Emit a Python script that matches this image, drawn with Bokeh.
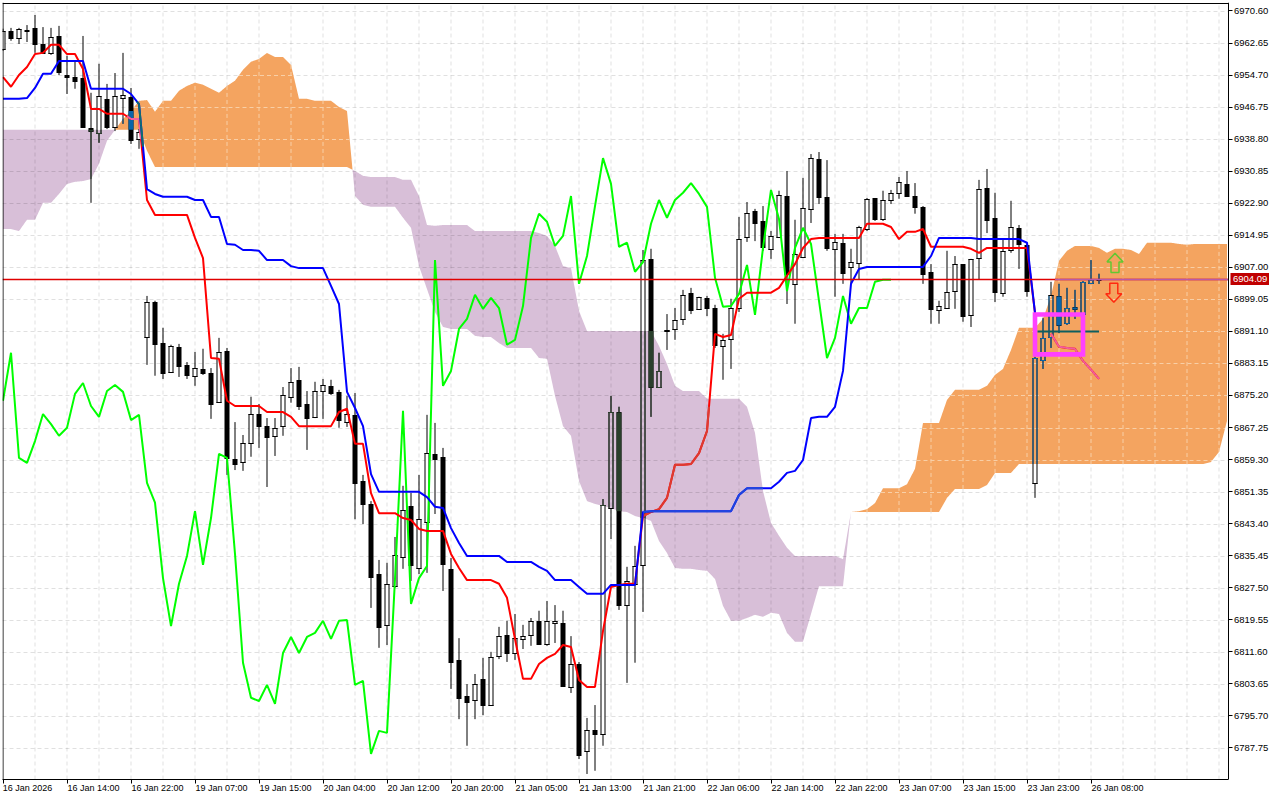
from bokeh.plotting import figure
from bokeh.models import FixedTicker, PrintfTickFormatter, LinearAxis, Range1d
from bokeh.core.properties import value
from bokeh.embed import file_html
from bokeh.resources import INLINE
import numpy as np

nan = float("nan")

# ---- candles (per bar) ----
highs = [6966.2,6966.4,6966.4,6967.1,6969.6,6966.6,6966.4,6966.9,6959.5,6958.2,
 6964.4,6950.3,6957.5,6952.5,6955.2,6960.2,6951.5,6941.3,6899.9,6898.7,
 6892.0,6887.8,6888.0,6883.5,6886.0,6886.8,6882.0,6889.5,6887.0,6868.6,
 6865.4,6874.9,6873.1,6869.6,6869.6,6877.3,6882.0,6882.3,6876.3,6878.6,
 6879.3,6879.1,6876.6,6875.1,6875.8,6855.5,6849.0,6834.4,6833.7,6840.1,
 6852.8,6851.0,6855.5,6870.4,6868.4,6862.2,6834.9,6815.0,6803.6,6806.1,
 6810.1,6811.6,6817.8,6819.3,6821.0,6818.3,6820.0,6821.8,6824.2,6823.2,
 6821.8,6815.5,6809.1,6795.2,6798.4,6849.5,6875.1,6872.4,6832.7,6837.9,
 6911.3,6911.6,6885.8,6895.4,6896.9,6901.4,6901.9,6899.7,6899.9,6897.7,
 6890.5,6899.2,6919.5,6923.2,6921.5,6922.2,6916.0,6926.0,6930.9,6918.8,
 6929.2,6935.1,6935.6,6933.6,6915.3,6915.3,6911.6,6917.3,6924.2,6924.2,
 6926.0,6926.2,6929.4,6930.9,6927.9,6922.2,6907.8,6898.7,6911.1,6909.8,
 6907.8,6909.1,6928.7,6931.4,6925.5,6913.8,6923.5,6917.5,6913.1,6884.8,
 6894.5,6903.4,6902.9,6901.9,6901.4,6903.6,6908.8,6905.4]
lows = [6960.7,6963.2,6962.4,6962.9,6960.2,6960.2,6959.7,6954.7,6950.0,6951.3,
 6941.6,6923.0,6937.9,6941.3,6940.8,6942.6,6937.6,6936.4,6882.8,6880.1,
 6879.3,6880.8,6879.8,6879.3,6877.6,6880.3,6869.4,6873.4,6855.5,6856.7,
 6856.5,6860.0,6862.2,6852.5,6860.2,6865.2,6873.4,6871.6,6861.7,6869.6,
 6869.4,6875.3,6867.2,6867.4,6844.5,6843.3,6822.5,6812.6,6813.3,6827.5,
 6832.2,6829.2,6830.9,6831.2,6845.8,6826.7,6802.4,6794.9,6788.3,6794.9,
 6795.9,6798.4,6809.8,6809.1,6809.6,6812.3,6813.1,6813.6,6813.1,6813.8,
 6802.9,6801.4,6785.0,6781.3,6782.1,6788.3,6839.6,6822.0,6803.9,6808.9,
 6821.5,6869.9,6877.3,6886.5,6889.0,6892.7,6895.4,6896.7,6894.9,6887.0,
 6879.1,6881.8,6895.9,6913.3,6913.5,6911.1,6909.1,6914.3,6897.9,6893.0,
 6909.3,6918.0,6922.7,6911.1,6899.7,6902.9,6903.1,6904.1,6916.0,6918.5,
 6918.5,6922.7,6924.0,6924.5,6920.3,6902.9,6893.0,6893.0,6896.7,6896.7,
 6893.5,6892.2,6904.1,6915.5,6898.4,6899.7,6910.6,6906.6,6899.7,6849.8,
 6881.8,6887.0,6890.7,6892.7,6894.2,6895.4,6902.9,6902.9]
body_tops = [6965.7,6965.7,6966.2,6966.0,6966.4,6962.4,6964.2,6964.4,6954.7,6954.2,
 6954.0,6941.6,6949.5,6948.8,6949.5,6949.8,6949.3,6940.6,6898.4,6898.4,
 6888.3,6887.5,6887.3,6882.8,6882.0,6881.8,6880.8,6886.0,6886.3,6859.5,
 6863.4,6870.6,6870.6,6867.6,6867.2,6875.3,6878.6,6879.1,6873.1,6876.3,
 6877.8,6877.6,6876.1,6870.6,6870.4,6854.0,6848.3,6830.9,6828.5,6835.7,
 6846.8,6847.8,6844.6,6860.9,6860.7,6860.0,6832.2,6809.6,6800.6,6803.6,
 6804.9,6810.4,6815.5,6815.8,6815.0,6815.5,6819.3,6819.3,6819.3,6819.3,
 6818.8,6808.6,6808.6,6792.2,6792.2,6848.1,6871.1,6871.1,6829.2,6832.9,
 6908.8,6909.1,6881.3,6891.5,6893.9,6900.2,6900.7,6899.7,6899.4,6896.9,
 6889.0,6896.9,6914.0,6920.5,6921.0,6918.5,6914.8,6925.0,6924.7,6910.3,
 6921.7,6934.1,6933.9,6924.5,6913.3,6913.1,6908.3,6917.0,6924.0,6924.2,
 6923.7,6925.5,6928.2,6927.7,6924.7,6922.0,6905.9,6897.4,6900.9,6907.8,
 6907.8,6909.1,6926.5,6926.7,6919.3,6911.1,6917.0,6916.8,6912.6,6884.5,
 6889.5,6900.2,6899.9,6896.9,6897.2,6903.4,6903.9,6903.9]
body_bots = [6961.2,6963.9,6963.9,6965.7,6962.4,6960.2,6960.2,6955.5,6954.2,6953.3,
 6941.8,6940.8,6940.3,6941.8,6941.8,6949.0,6938.6,6938.9,6889.7,6888.0,
 6880.8,6881.0,6882.5,6880.3,6880.1,6880.8,6873.1,6873.6,6859.7,6858.2,
 6858.7,6863.4,6867.6,6864.9,6865.2,6867.6,6874.9,6872.6,6869.6,6869.9,
 6876.3,6875.8,6869.1,6868.6,6853.5,6848.3,6830.2,6817.8,6818.3,6828.0,
 6835.2,6833.2,6832.4,6843.8,6859.5,6833.4,6809.1,6800.1,6799.2,6799.7,
 6798.4,6798.4,6810.6,6811.3,6811.3,6814.8,6815.8,6813.6,6813.6,6818.8,
 6803.1,6802.9,6786.0,6787.0,6791.2,6791.2,6847.3,6823.2,6823.2,6828.5,
 6833.2,6877.3,6877.3,6891.3,6891.7,6894.2,6896.4,6896.7,6896.9,6887.8,
 6887.5,6889.2,6896.9,6914.5,6918.0,6912.1,6911.6,6914.5,6905.4,6902.9,
 6909.6,6921.5,6924.5,6911.8,6911.6,6905.6,6907.1,6908.1,6916.5,6919.0,
 6919.0,6923.7,6925.5,6924.7,6922.0,6905.4,6896.7,6896.4,6896.9,6901.1,
 6894.9,6895.2,6909.3,6918.8,6900.9,6900.7,6911.3,6912.8,6901.1,6853.5,
 6884.0,6889.7,6892.7,6893.2,6896.7,6895.4,6903.1,6903.8]
bullish = [1,0,1,0,0,0,1,0,0,0,
 0,0,1,0,1,1,0,1,1,0,
 0,1,0,0,1,0,0,1,0,0,
 1,1,0,0,1,1,1,0,0,1,
 1,0,0,1,0,0,0,0,1,1,
 1,0,1,1,0,0,0,0,0,1,
 0,1,1,0,1,1,1,0,1,1,
 0,1,0,1,0,1,1,0,1,1,
 1,0,1,1,1,1,0,1,0,0,
 1,1,1,1,0,0,1,1,0,1,
 1,1,0,0,1,0,1,1,1,0,
 1,1,1,0,0,0,0,1,1,1,
 0,1,1,0,0,1,1,0,0,1,
 1,1,0,1,0,1,1,0]

# ---- Ichimoku lines ----
tenkan = [6954.2,6951.8,6954.7,6956.7,6959.9,6960.2,6962.2,6962.2,6959.9,6959.9,
 6956.2,6946.3,6946.3,6945.1,6945.1,6945.1,6943.8,6943.8,6923.7,6920.0,
 6920.0,6920.0,6920.0,6920.0,6914.3,6909.3,6884.5,6884.3,6873.9,6872.6,
 6872.6,6872.6,6872.6,6871.1,6871.1,6871.1,6869.9,6867.6,6867.6,6867.6,
 6867.6,6867.6,6871.1,6871.9,6863.2,6863.2,6851.0,6846.0,6846.0,6846.0,
 6844.8,6844.3,6842.1,6841.6,6841.6,6841.6,6835.9,6832.4,6829.4,6829.4,
 6829.4,6829.4,6828.5,6825.0,6814.8,6804.9,6804.9,6808.6,6810.1,6811.1,
 6813.3,6812.8,6804.6,6802.9,6802.9,6816.8,6827.7,6828.2,6828.5,6828.5,
 6845.3,6846.3,6847.0,6849.8,6858.0,6858.0,6858.2,6860.9,6866.4,6890.5,
 6889.7,6890.2,6899.2,6900.7,6900.7,6900.7,6900.7,6901.9,6904.9,6907.8,
 6911.8,6914.0,6914.3,6914.3,6914.3,6914.3,6914.3,6914.3,6917.8,6917.8,
 6917.8,6917.0,6914.0,6915.8,6915.8,6916.5,6912.1,6912.1,6912.1,6912.1,
 6912.1,6911.6,6910.6,6911.8,6911.8,6911.8,6911.8,6911.8,6911.8,6895.7,
 nan,6890.5,6887.3,6887.0,6886.8,6883.8,6881.6,6879.3]
kijun = [6948.8,6948.8,6948.8,6949.0,6951.5,6955.0,6955.0,6958.2,6958.2,6958.2,
 6958.2,6951.3,6951.3,6951.3,6951.3,6951.3,6950.0,6947.5,6926.4,6925.2,
 6924.5,6924.5,6924.5,6924.5,6923.7,6923.7,6919.5,6919.5,6912.8,6912.6,
 6911.3,6911.3,6911.1,6908.8,6908.8,6908.8,6907.3,6906.8,6906.8,6906.8,
 6906.8,6902.4,6897.9,6876.1,6872.1,6867.6,6855.7,6851.3,6851.3,6851.3,
 6851.3,6851.3,6851.3,6850.0,6847.6,6847.3,6842.3,6838.6,6835.4,6835.4,
 6835.4,6835.4,6835.4,6833.9,6833.9,6833.9,6833.9,6832.7,6831.7,6829.4,
 6829.4,6829.4,6827.7,6826.0,6826.0,6826.0,6828.2,6828.2,6828.2,6828.2,
 6846.3,6846.5,6846.5,6846.5,6846.5,6846.5,6846.5,6846.5,6846.5,6846.5,
 6846.5,6846.5,6850.5,6852.2,6852.2,6852.2,6852.2,6853.8,6856.0,6856.5,
 6859.2,6869.6,6869.9,6869.9,6872.4,6881.3,6902.9,6906.6,6907.1,6907.1,
 6907.1,6907.1,6907.1,6907.1,6907.1,6907.1,6909.8,6914.3,6914.3,6914.3,
 6914.3,6914.3,6914.0,6914.0,6914.0,6914.0,6914.0,6914.0,6913.1,6895.7]
chikou = [6873.9,6885.8,6859.7,6858.5,6863.9,6870.6,6868.1,6865.2,6867.2,6875.6,
 6878.3,6872.6,6869.9,6876.3,6877.8,6876.1,6869.1,6870.4,6853.5,6848.6,
 6829.9,6818.0,6828.5,6835.4,6846.5,6833.2,6844.8,6860.7,6859.7,6835.9,
 6808.9,6800.2,6799.4,6803.4,6798.7,6811.3,6815.3,6811.3,6815.3,6816.3,
 6819.3,6814.8,6819.3,6819.5,6803.4,6804.4,6786.3,6792.0,6791.5,6829.7,
 6871.4,6823.5,6829.9,6832.9,6908.8,6877.6,6881.3,6891.7,6894.2,6900.2,
 6896.7,6899.4,6896.9,6887.8,6889.0,6897.4,6914.3,6920.3,6918.3,6912.3,
 6914.8,6924.7,6902.9,6909.8,6922.2,6934.1,6927.7,6912.1,6913.1,6905.9,
 6908.3,6917.8,6923.7,6919.3,6923.7,6925.5,6927.9,6925.2,6922.0,6904.4,
 6897.2,6897.4,6900.4,6907.6,6895.2,6911.8,6926.2,6919.0,6901.1,6911.8,
 6916.8,6912.8,6898.7,6884.5,6889.5,6899.9,6893.0,6896.9,6896.9,6903.4,
 6903.9,6903.9]
span_a = [6916.5,6916.5,6916.0,6918.8,6918.8,6923.0,6923.0,6925.2,6927.7,6928.2,
 6928.4,6928.9,6932.7,6938.4,6941.1,6943.8,6945.8,6948.3,6948.5,6945.6,
 6948.3,6948.3,6950.8,6952.0,6952.8,6952.3,6951.3,6950.3,6952.0,6953.3,
 6956.0,6958.0,6958.7,6960.2,6959.2,6959.2,6957.2,6948.8,6948.8,6948.3,
 6948.3,6948.3,6946.8,6945.8,6924.7,6922.5,6922.0,6922.0,6922.0,6922.0,
 6919.3,6916.8,6907.3,6901.6,6895.9,6892.2,6891.7,6891.7,6891.7,6890.0,
 6889.7,6889.7,6888.2,6887.0,6887.0,6887.0,6887.0,6884.5,6884.3,6875.1,
 6867.6,6865.2,6854.0,6849.0,6848.3,6847.8,6847.3,6846.5,6846.3,6845.3,
 6844.8,6844.1,6839.1,6836.1,6832.4,6832.2,6832.2,6831.9,6831.7,6829.7,
 6823.0,6819.3,6819.3,6820.0,6820.8,6820.3,6821.3,6821.0,6816.3,6814.1,
 6814.1,6821.0,6827.9,6827.9,6827.9,6827.9,6846.3,6846.5,6847.0,6848.5,
 6852.2,6852.2,6852.2,6853.2,6857.0,6868.4,6868.4,6868.4,6874.1,6876.6,
 6876.6,6876.6,6876.6,6877.6,6880.3,6881.8,6886.5,6892.0,6892.0,6892.0,
 6894.2,6899.9,6908.6,6911.1,6912.3,6912.3,6912.3,6911.8,6910.6,6911.6,
 6911.6,6911.3,6910.3,6913.1,6913.1,6913.1,6913.1,6912.8,6912.6,6912.8,
 6912.8,6912.8,6912.8,6912.8]
span_b = [6941.1,6941.1,6941.1,6941.1,6941.1,6941.1,6941.1,6941.1,6941.1,6941.1,
 6941.1,6941.1,6941.1,6941.1,6941.1,6941.1,6941.1,6941.1,6935.9,6931.9,
 6931.9,6931.9,6931.9,6931.9,6931.9,6931.9,6931.9,6931.9,6931.9,6931.9,
 6931.9,6931.9,6931.9,6931.9,6931.9,6931.9,6931.9,6931.9,6931.9,6931.9,
 6931.9,6931.9,6931.9,6931.9,6930.9,6929.7,6929.4,6929.4,6929.4,6929.4,
 6928.7,6928.7,6924.7,6917.5,6917.3,6917.5,6917.5,6917.5,6917.5,6916.0,
 6916.0,6916.0,6916.0,6916.0,6916.0,6916.0,6916.0,6915.5,6914.8,6912.3,
 6907.3,6906.8,6896.2,6891.2,6891.2,6891.2,6891.2,6891.2,6891.2,6891.2,
 6891.2,6891.2,6887.5,6883.0,6877.6,6876.3,6876.3,6876.3,6874.4,6874.4,
 6874.4,6874.4,6874.4,6872.4,6865.9,6851.5,6843.6,6840.4,6837.4,6835.4,
 6835.4,6835.4,6835.4,6835.4,6835.4,6834.6,6846.3,6846.3,6846.3,6846.3,
 6846.3,6846.3,6846.3,6846.3,6846.3,6846.3,6846.3,6846.3,6849.8,6852.0,
 6852.0,6852.0,6852.0,6853.0,6856.0,6856.0,6856.0,6858.2,6858.2,6858.2,
 6858.2,6858.2,6858.2,6858.2,6858.2,6858.2,6858.2,6858.2,6858.2,6858.2,
 6858.2,6858.2,6858.2,6858.2,6858.2,6858.2,6858.2,6858.2,6858.2,6858.2,
 6858.2,6858.7,6861.2,6868.9]

# ---- axes and annotations ----
y_ticks = [6970.60,6962.65,6954.70,6946.75,6938.80,6930.85,6922.90,6914.95,6907.00,6899.05,
 6891.10,6883.15,6875.20,6867.25,6859.30,6851.35,6843.40,6835.45,6827.50,6819.55,
 6811.60,6803.65,6795.70,6787.75]
x_tick_bars = [0,8,16,24,32,40,48,56,64,72,80,88,96,104,112,120,128,136]
x_tick_labels = ["16 Jan 2026","16 Jan 14:00","16 Jan 22:00","19 Jan 07:00","19 Jan 15:00",
 "20 Jan 04:00","20 Jan 12:00","20 Jan 20:00","21 Jan 05:00","21 Jan 13:00","21 Jan 21:00",
 "22 Jan 06:00","22 Jan 14:00","22 Jan 22:00","23 Jan 07:00","23 Jan 15:00","23 Jan 23:00",
 "26 Jan 08:00"]
last_price = 6904.09
hline_price = 6891.10
hline_bars = [129.3, 137]
box_bars = [129, 135]
box_prices = [6885.4, 6895.3]
arrow_up_at = [139.0, 6908.1]
arrow_dn_at = [138.85, 6900.7]

FONT = "Liberation Sans"
ORANGE = "#F4A460"
PURPLE = "#D8BFD8"
PX_PER_BAR = 8.0
Y_BOTTOM, Y_TOP = 6779.93, 6972.70
FRAME_H = 777
PRICE_PER_PX = (Y_TOP - Y_BOTTOM) / FRAME_H
SNAP_SHIFT = 0.5   # phase of the frame's y mapping against device pixels
AXIS_BAR = (1227.5 - 2.5) / PX_PER_BAR   # where the price scale stands

def snap(v):
    """Nearest price that falls on a pixel centre, so 1px strokes stay crisp."""
    py = (Y_TOP - np.asarray(v, dtype=float)) / PRICE_PER_PX
    return Y_TOP - (np.floor(py) + 0.5 + SNAP_SHIFT) * PRICE_PER_PX

p = figure(width=1280, height=800, output_backend="svg", toolbar_location=None,
           y_axis_location=None, x_axis_location="below",
           min_border_left=2, min_border_right=0, min_border_top=2, min_border_bottom=21,
           x_range=Range1d(-0.0625, (1280 - 2.5) / PX_PER_BAR), y_range=Range1d(Y_BOTTOM, Y_TOP),
           background_fill_color="white", border_fill_color="white")
p.grid.visible = False
p.outline_line_color = None

# x axis: ticks on the frame, then a second axis whose centred labels start at each tick
ax = p.xaxis[0]
ax.ticker = FixedTicker(ticks=x_tick_bars)
ax.major_label_overrides = {t: "" for t in x_tick_bars}
ax.major_label_text_font_size = "1px"
ax.major_label_standoff = 0
ax.major_tick_in = 0
ax.major_tick_out = 4
ax.minor_tick_line_color = None
ax.axis_line_color = "black"
ax.bounds = (-0.0625, AXIS_BAR)

label_centres = [t + (24.5 if t == 0 else 26.5) / PX_PER_BAR for t in x_tick_bars]
ax2 = LinearAxis(ticker=FixedTicker(ticks=label_centres),
                 major_label_overrides=dict(zip(label_centres, x_tick_labels)),
                 major_label_text_font=FONT, major_label_text_font_size="9px",
                 major_label_text_color="black", major_label_standoff=-1,
                 major_tick_line_color=None, major_tick_in=0, major_tick_out=0,
                 minor_tick_line_color=None, axis_line_color=None)
p.add_layout(ax2, "below")

ay = LinearAxis(fixed_location=AXIS_BAR, ticker=FixedTicker(ticks=y_ticks),
                formatter=PrintfTickFormatter(format="%.2f"),
                major_label_text_font=FONT, major_label_text_font_size="9.5px",
                major_label_text_color="black", major_label_standoff=2,
                major_tick_in=0, major_tick_out=4, minor_tick_line_color=None,
                axis_line_color="black", bounds=(Y_BOTTOM, Y_TOP))
p.add_layout(ay, "right")

# ---- cloud ----
bars = np.arange(len(span_a), dtype=float)
A = np.array(span_a); B = np.array(span_b)
fx = np.arange(0, bars[-1] + 1e-6, 1/16)
fa = np.interp(fx, bars, A); fb = np.interp(fx, bars, B)
p.varea(fx, fa, np.where(fa < fb, fb, fa), fill_color=PURPLE)

# grid, dark over white/purple
y0, y1 = p.y_range.start, p.y_range.end
x0, x1 = p.x_range.start, AXIS_BAR
grid_x = np.arange(0, 154, 4)
grid_y = snap(y_ticks)
GRID = dict(line_color="black", line_alpha=0.12, line_width=1, line_dash="4 3")
p.segment(grid_x[1:], [y0]*(len(grid_x)-1), grid_x[1:], [y1]*(len(grid_x)-1), **GRID)
p.segment([x0]*len(grid_y), grid_y, [x1]*len(grid_y), grid_y, **GRID)

p.varea(fx, fa, np.where(fa > fb, fb, fa), fill_color=ORANGE)

# light grid across the orange cloud
gx0, gy0, gx1, gy1 = [], [], [], []
for g in grid_x:
    ia, ib = np.interp(g, bars, A), np.interp(g, bars, B)
    if ia > ib:
        gx0.append(g); gx1.append(g); gy0.append(ib); gy1.append(ia)
for lvl in grid_y:
    m = (fa > fb) & (fb < lvl) & (lvl < fa)
    edges = np.flatnonzero(np.diff(np.concatenate(([0], m.astype(int), [0]))))
    for s, e in zip(edges[::2], edges[1::2]):
        gx0.append(fx[s]); gx1.append(fx[e-1]); gy0.append(lvl); gy1.append(lvl)
p.segment(gx0, gy0, gx1, gy1, line_color="#F8CFA6", line_width=1, line_dash="4 3")

# ---- candles, with the tone they take inside the cloud ----
n = len(highs)
H, L = np.array(highs), np.array(lows)
T, Bo = snap(body_tops), snap(body_bots)
bull = np.array(bullish, dtype=bool)
idx = np.arange(n, dtype=float)
clo = np.minimum(A[:n], B[:n]); chi = np.maximum(A[:n], B[:n])
tone = np.where(A[:n] > B[:n], "#0A64A8", "#2A3F2C")
HW = 2 / PX_PER_BAR          # half-width between the outline centres
CAP = 0.5 / PX_PER_BAR       # half a pixel along x
VCAP = 0.5 * PRICE_PER_PX    # half a pixel along y

# white fill outside the cloud only
wx, wtop, wbot = [], [], []
for i in np.flatnonzero(bull):
    if T[i] > chi[i]:
        wx.append(idx[i]); wtop.append(T[i]); wbot.append(max(Bo[i], chi[i]))
    if Bo[i] < clo[i]:
        wx.append(idx[i]); wtop.append(min(T[i], clo[i])); wbot.append(Bo[i])
p.segment(wx, wbot, wx, wtop, line_color="white", line_width=4)

# wicks: above and below the body only
p.segment(idx, T, idx, np.maximum(H, T), line_color="black", line_width=1)
p.segment(idx, np.minimum(L, Bo), idx, Bo, line_color="black", line_width=1)
# bearish bodies
bear = ~bull
p.segment(idx[bear], Bo[bear] - VCAP, idx[bear], T[bear] + VCAP, line_color="black", line_width=5)
# bullish outlines
ib_ = idx[bull]; Tb = T[bull]; Bb = Bo[bull]
p.segment(ib_ - HW, Bb - VCAP, ib_ - HW, Tb + VCAP, line_color="black", line_width=1)
p.segment(ib_ + HW, Bb - VCAP, ib_ + HW, Tb + VCAP, line_color="black", line_width=1)
p.segment(ib_ - HW - CAP, Tb, ib_ + HW + CAP, Tb, line_color="black", line_width=1)
p.segment(ib_ - HW - CAP, Bb, ib_ + HW + CAP, Bb, line_color="black", line_width=1)

# re-tone what falls inside the cloud
sx0, sy0, sx1, sy1, sc = [], [], [], [], []
def seg(a, b, c, d, col):
    sx0.append(a); sy0.append(b); sx1.append(c); sy1.append(d); sc.append(col)
bx, btop, bbot, bc = [], [], [], []
for i in range(n):
    for w_lo, w_hi in ((T[i], H[i]), (L[i], Bo[i])):
        lo, hi = max(w_lo, clo[i]), min(w_hi, chi[i])
        if hi > lo:
            seg(idx[i], lo, idx[i], hi, tone[i])
    lo, hi = max(Bo[i], clo[i]), min(T[i], chi[i])
    if hi > lo:
        if bull[i]:
            seg(idx[i]-HW, lo, idx[i]-HW, hi, tone[i])
            seg(idx[i]+HW, lo, idx[i]+HW, hi, tone[i])
            if clo[i] <= T[i] <= chi[i]:
                seg(idx[i]-HW-CAP, T[i], idx[i]+HW+CAP, T[i], tone[i])
            if clo[i] <= Bo[i] <= chi[i]:
                seg(idx[i]-HW-CAP, Bo[i], idx[i]+HW+CAP, Bo[i], tone[i])
        else:
            bx.append(idx[i]); btop.append(hi); bbot.append(lo); bc.append(tone[i])
p.segment(bx, bbot, bx, btop, line_color=bc, line_width=5)
p.segment(sx0, sy0, sx1, sy1, line_color=sc, line_width=1)

# ---- lines ----
def overlay(vals, in_orange, in_purple, width):
    vals = np.array(vals)
    xs = np.arange(0, len(vals) - 1 + 1e-6, 1/4)
    ys = np.interp(xs, np.arange(len(vals)), np.where(np.isnan(vals), 0, vals))
    keep = ~np.isnan(vals[np.floor(xs).astype(int)]) & ~np.isnan(vals[np.ceil(xs).astype(int)])
    ia = np.interp(xs, bars, A); ib = np.interp(xs, bars, B)
    ox0, oy0, ox1, oy1, oc = [], [], [], [], []
    for j in range(len(xs) - 1):
        if not (keep[j] and keep[j+1]):
            continue
        mid = (ys[j] + ys[j+1]) / 2
        a_, b_ = (ia[j] + ia[j+1]) / 2, (ib[j] + ib[j+1]) / 2
        if min(a_, b_) < mid < max(a_, b_):
            col = in_orange if a_ > b_ else in_purple
            if col:
                ox0.append(xs[j]); oy0.append(ys[j]); ox1.append(xs[j+1]); oy1.append(ys[j+1]); oc.append(col)
    p.segment(ox0, oy0, ox1, oy1, line_color=oc, line_width=width)

p.line(np.arange(len(chikou)), chikou, line_color="#00FF00", line_width=2)
p.line(np.arange(n), tenkan, line_color="#FF0000", line_width=2)
overlay(tenkan, "#F0609F", "#DC3C32", 2)
p.line(np.arange(len(kijun)), kijun, line_color="#0000FF", line_width=2)
overlay(kijun, "#0E6E6E", "#2048DC", 2)

# last price line, a little over 1px so its red holds
lpy = float(snap(last_price))
p.line([x0, x1], [lpy, lpy], line_color="#E00000", line_width=1.5)
lp = (fa > fb) & (fb < last_price) & (last_price < fa)
p.line([fx[lp][0], x1], [lpy, lpy], line_color="#B75AA8", line_width=1.5)

# horizontal marker
p.line(hline_bars, [hline_price, hline_price], line_color="#0E5F5F", line_width=2)

# pink box
p.line([box_bars[0], box_bars[1], box_bars[1], box_bars[0], box_bars[0], box_bars[1]],
       [box_prices[1], box_prices[1], box_prices[0], box_prices[0], box_prices[1], box_prices[1]],
       line_color="#FF40FF", line_width=4.6, line_join="miter")

# arrows: shape in pixels around an anchor
def arrow(bar, price, direction, color):
    dx = np.array([0, 8, 4, 4, -4, -4, -8, 0]) / PX_PER_BAR
    dy = np.array([9.5, 1.0, 1.0, -9.5, -9.5, 1.0, 1.0, 9.5]) * PRICE_PER_PX * direction
    p.patch(bar + dx, price + dy, fill_color=None, line_color=color, line_width=1.5)
arrow(arrow_up_at[0], arrow_up_at[1], 1, "#62C832")
arrow(arrow_dn_at[0], arrow_dn_at[1], -1, "#FF2A10")

# frame: top and left edges
top_y = float(snap(Y_TOP))
p.line([x0, x1], [top_y, top_y], line_color="black", line_width=1)
p.line([0, 0], [y0, y1], line_color="black", line_width=1)

# last price tag, right of the scale
tag_left, tag_right = (1230 - 2.5) / PX_PER_BAR, (1268.5 - 2.5) / PX_PER_BAR
p.quad(left=[tag_left], right=[tag_right], bottom=[last_price - 6 * PRICE_PER_PX],
       top=[last_price + 6 * PRICE_PER_PX], fill_color="#C00000", line_color=None)
p.text(x=[tag_left + 2.5 / PX_PER_BAR], y=[last_price], text=["%.2f" % last_price],
       text_color="white", text_font=value(FONT), text_font_size="9.5px",
       text_baseline="middle", text_align="left")

open("out.html", "w").write(file_html(p, INLINE))
